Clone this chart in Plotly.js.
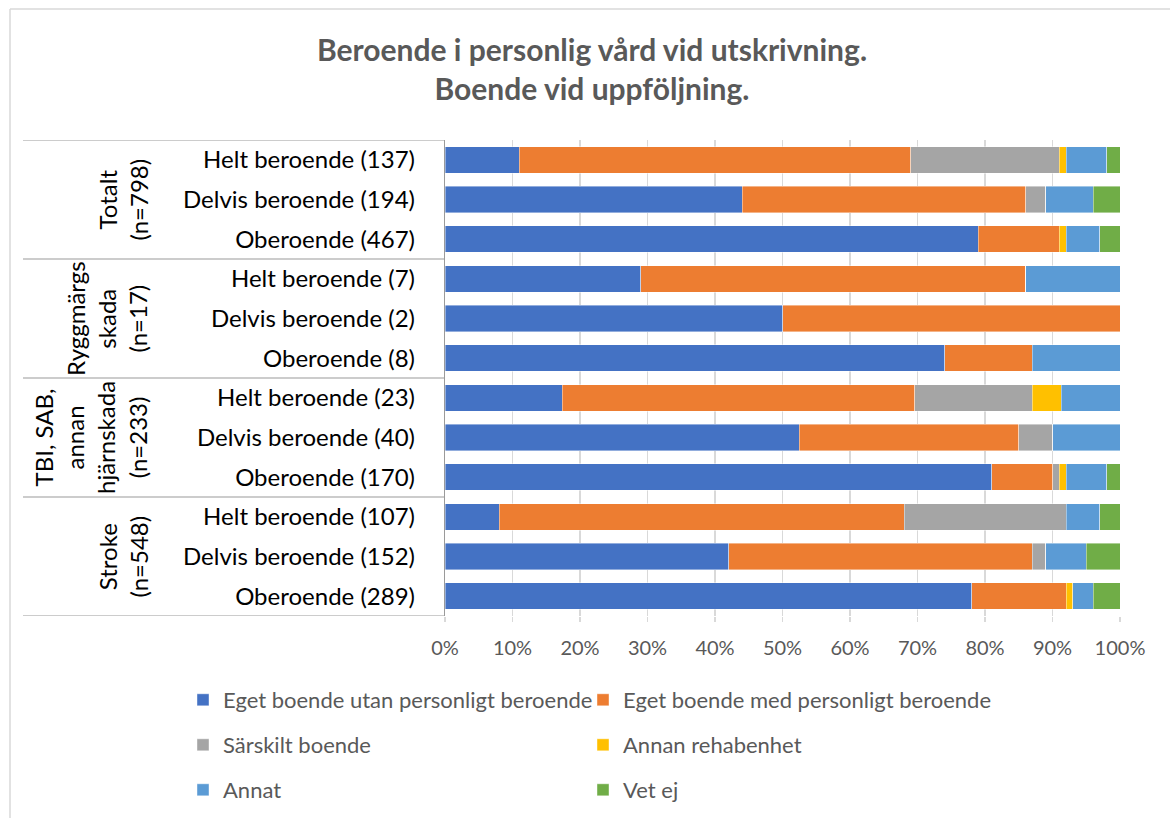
<!DOCTYPE html>
<html>
<head>
<meta charset="utf-8">
<script src="https://cdn.plot.ly/plotly-3.0.1.min.js"></script>
<style>html,body{margin:0;padding:0;background:#fff;}#chart{width:1170px;height:818px;}</style>
</head>
<body>
<div id="chart"></div>
<script>
// Row labels (top to bottom)
const categories = [
  "Helt beroende (137)", "Delvis beroende (194)", "Oberoende (467)",
  "Helt beroende (7)", "Delvis beroende (2)", "Oberoende (8)",
  "Helt beroende (23)", "Delvis beroende (40)", "Oberoende (170)",
  "Helt beroende (107)", "Delvis beroende (152)", "Oberoende (289)"
];
// Group labels (each spans three rows)
const groups = ["Totalt<br>(n=798)", "Ryggmärgs<br>skada<br>(n=17)", "TBI, SAB,<br>annan<br>hjärnskada<br>(n=233)", "Stroke<br>(n=548)"];
const seriesNames = [
  "Eget boende utan personligt beroende",
  "Eget boende med personligt beroende",
  "Särskilt boende",
  "Annan rehabenhet",
  "Annat",
  "Vet ej"
];
// Percent values per row
const egetUtan   = [11, 44, 79, 29, 50, 74, 17.4, 52.5, 81, 8, 42, 78];
const egetMed    = [58, 42, 12, 57, 50, 13, 52.2, 32.5, 9, 60, 45, 14];
const sarskilt   = [22, 3, 0, 0, 0, 0, 17.4, 5, 1, 24, 2, 0];
const annanRehab = [1, 0, 1, 0, 0, 0, 4.3, 0, 1, 0, 0, 1];
const annat      = [6, 7, 5, 14, 0, 13, 8.7, 10, 6, 5, 6, 3];
const vetEj      = [2, 4, 3, 0, 0, 0, 0, 0, 2, 3, 5, 4];
const xTicks = [0, 10, 20, 30, 40, 50, 60, 70, 80, 90, 100];

const seriesValues = [egetUtan, egetMed, sarskilt, annanRehab, annat, vetEj];
const colors = ["#4472C4", "#ED7D31", "#A5A5A5", "#FFC000", "#5B9BD5", "#70AD47"];
const FONT = "Lato, 'Open Sans', sans-serif";

// plot geometry in px (for paper conversions)
const L = 445, R = 1120, T = 140, B = 616;
const W = R - L, H = B - T;
const px2x = p => (p - L) / W;
const px2y = p => (B - p) / H;

const rowIdx = categories.map((c, i) => i);
const legendKey = k => (k === 0 ? "legend" : "legend" + (k + 1));
const traces = seriesValues.map((vals, k) => ({
  type: "bar",
  orientation: "h",
  name: seriesNames[k],
  x: vals,
  y: rowIdx,
  marker: {color: colors[k], line: {color: "rgba(255,255,255,0.7)", width: 0.6}},
  legend: legendKey(k),
  hoverinfo: "name+x"
}));

const shapes = [];
// group separators
[ -0.5, 2.5, 5.5, 8.5, 11.5 ].forEach(v => {
  shapes.push({type: "line", xref: "paper", yref: "y", x0: px2x(23), x1: 0, y0: v, y1: v,
    line: {color: "#9a9a9a", width: 1.2}});
});
// outer chart frame
shapes.push({type: "line", xref: "paper", yref: "paper", x0: px2x(10), x1: px2x(1170), y0: px2y(9), y1: px2y(9), line: {color: "#d9d9d9", width: 1.5}});
shapes.push({type: "line", xref: "paper", yref: "paper", x0: px2x(10), x1: px2x(10), y0: px2y(9), y1: px2y(818), line: {color: "#d9d9d9", width: 1.5}});

const annotations = groups.map((g, i) => ({
  text: g, xref: "paper", yref: "y", x: px2x(154), y: i * 3 + 1,
  xanchor: "right", yanchor: "middle", textangle: -90, showarrow: false,
  align: "center", font: {family: FONT, size: 24, color: "#000"}
}));

const layout = {
  width: 1170, height: 818,
  margin: {l: L, r: 1170 - R, t: T, b: 818 - B, autoexpand: false},
  paper_bgcolor: "#fff", plot_bgcolor: "#fff",
  barmode: "stack", bargap: 0.33,
  title: {text: "<b>Beroende i personlig vård vid utskrivning.<br>Boende vid uppföljning.</b>",
    x: 0.506, xanchor: "center", y: 0.926, yref: "container", yanchor: "middle",
    font: {family: FONT, size: 30, color: "#595959"}},
  xaxis: {range: [0, 100], tickvals: xTicks, ticktext: xTicks.map(v => v + "%"),
    showgrid: true, gridcolor: "#d9d9d9", gridwidth: 1.5, zeroline: false,
    ticks: "outside", ticklen: 5, tickcolor: "#d9d9d9", tickwidth: 1.5,
    ticklabelstandoff: 9, tickfont: {family: FONT, size: 20, color: "#595959"}, fixedrange: true},
  yaxis: {range: [11.5, -0.5], tickvals: rowIdx, ticktext: categories, showgrid: false, zeroline: false,
    showline: true, linecolor: "#9a9a9a", linewidth: 1.2, ticks: "", ticklabelstandoff: 24,
    tickfont: {family: FONT, size: 24, color: "#000"}, fixedrange: true},
  shapes: shapes,
  annotations: annotations,
  showlegend: true
};

// six single-entry legends arranged in a 2-column grid
const legendCols = [183, 583];
const legendRows = [700, 745, 790];
seriesNames.forEach((n, k) => {
  layout[legendKey(k)] = {
    orientation: "h", xanchor: "left", yanchor: "middle",
    x: px2x(legendCols[k % 2]), y: px2y(legendRows[Math.floor(k / 2)]),
    font: {family: FONT, size: 22, color: "#595959"},
    bgcolor: "rgba(0,0,0,0)", itemclick: false, itemdoubleclick: false
  };
});

Plotly.newPlot("chart", traces, layout, {displayModeBar: false, staticPlot: true});
</script>
</body>
</html>
